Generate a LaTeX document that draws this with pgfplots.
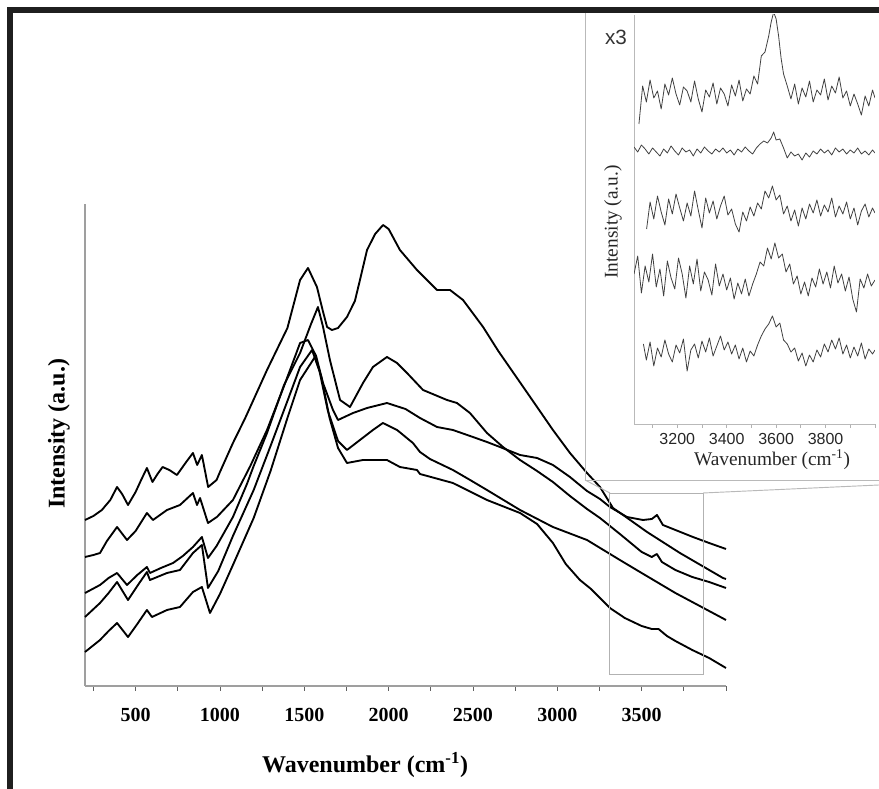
\documentclass[border=0pt]{standalone}
\usepackage{fontspec}
\setmainfont{Liberation Serif}
\newfontfamily\arialfont{Liberation Sans}
\usepackage{pgfplots}
\pgfplotsset{compat=1.18}
\pgfplotstableread{
x y
200 166
250 170
300 176
350 186
390 199
420 192
455 181
500 194
530 205
567 218
600 204
630 212
660 219
700 216
745 211
800 224
840 233
865 221
893 231
930 199
980 206
1000 214
1077 243
1150 268
1279 316
1400 358
1475 406
1522 418
1575 399
1610 375
1635 359
1664 356
1700 358
1753 369
1800 385
1830 406
1872 436
1920 452
1967 461
2000 457
2067 436
2168 416
2287 396
2364 396
2441 386
2560 359
2650 335
2761 308
2880 279
2974 256
3075 233
3176 213
3253 199
3330 178
3390 171
3532 154
3727 133
3982 108
4000 107
}\curveA
\pgfplotstableread{
x y
200 129
250 131
289 133
330 145
390 159
449 146
500 155
567 173
603 166
686 176
763 181
840 193
864 181
882 188
929 163
982 169
1077 186
1180 220
1279 256
1380 300
1475 343
1522 346
1570 330
1611 303
1670 276
1700 266
1789 273
1872 278
1990 283
2100 277
2186 268
2287 259
2381 256
2483 250
2583 244
2660 239
2779 231
2880 228
2974 221
3075 209
3176 195
3253 187
3312 179
3413 169
3508 166
3560 167
3591 171
3626 161
3700 156
3804 149
3900 143
4000 137
}\curveF
\pgfplotstableread{
x y
200 93
289 101
340 108
390 113
449 101
510 111
567 119
585 113
650 118
722 123
780 130
840 139
893 149
929 128
980 140
1077 169
1160 202
1200 220
1279 253
1380 301
1475 333
1540 362
1581 379
1610 360
1652 326
1712 286
1771 279
1848 303
1907 319
1990 329
2050 323
2109 313
2204 296
2346 286
2405 283
2482 273
2583 253
2678 239
2779 226
2880 215
2974 204
3075 190
3176 177
3253 168
3371 152
3450 141
3500 134
3560 129
3590 132
3620 124
3700 116
3800 109
3900 104
4000 98
}\curveB
\pgfplotstableread{
x y
200 69
289 83
340 93
390 104
455 86
510 100
567 114
585 106
686 113
763 116
840 133
893 141
929 98
990 115
1077 150
1200 196
1300 240
1400 285
1475 319
1546 336
1590 315
1640 275
1700 245
1753 236
1830 246
1907 256
1966 263
2050 256
2144 243
2186 234
2245 227
2381 216
2483 206
2583 196
2779 176
2974 159
3176 146
3371 126
3500 113
3600 103
3700 93
3800 84
3900 75
4000 66
}\curveM
\pgfplotstableread{
x y
200 34
289 46
340 55
390 63
455 49
510 62
567 76
597 69
686 76
763 79
840 94
893 99
941 73
1000 92
1077 121
1200 168
1300 215
1400 268
1475 306
1563 329
1600 310
1650 268
1700 238
1753 223
1848 226
1990 226
2067 219
2168 216
2186 212
2381 203
2583 186
2779 173
2880 162
2974 143
3050 122
3134 106
3200 97
3312 78
3400 68
3500 60
3560 57
3600 57
3650 50
3700 45
3800 36
3900 28
4000 18
}\curveL
\pgfplotstableread{
x y
3045 300
3060 338
3075 322
3090 344
3105 326
3120 333
3135 315
3150 340
3165 329
3180 346
3195 330
3210 319
3225 337
3240 333
3255 322
3270 343
3285 325
3300 312
3315 334
3330 327
3345 341
3360 320
3375 336
3390 330
3405 318
3420 339
3435 328
3450 344
3465 323
3480 335
3495 330
3510 348
3525 340
3540 368
3555 372
3570 388
3580 402
3590 412
3600 405
3610 388
3620 366
3630 350
3645 338
3660 325
3675 340
3690 320
3705 336
3720 327
3735 343
3750 322
3765 334
3780 329
3795 345
3810 324
3825 338
3840 331
3855 347
3870 326
3885 333
3900 318
3915 330
3930 320
3945 309
3960 328
3975 318
3990 334
4000 326
}\insetA
\pgfplotstableread{
x y
3025 277
3040 272
3055 279
3070 275
3085 270
3100 276
3115 272
3130 268
3145 275
3160 271
3175 278
3190 273
3205 269
3220 276
3235 272
3250 274
3265 268
3280 275
3295 271
3310 277
3325 273
3340 270
3355 275
3370 272
3385 276
3400 271
3415 274
3430 269
3445 275
3460 272
3475 277
3490 273
3505 270
3520 276
3535 280
3550 283
3565 281
3580 286
3590 292
3600 284
3615 285
3630 276
3645 266
3660 272
3675 268
3690 270
3705 264
3720 271
3735 267
3750 273
3765 270
3780 275
3795 271
3810 274
3825 269
3840 276
3855 272
3870 275
3885 270
3900 274
3915 271
3930 276
3945 270
3960 273
3975 269
3990 274
4000 271
}\insetB
\pgfplotstableread{
x y
3076 195
3090 222
3105 205
3120 228
3135 212
3150 199
3165 225
3180 210
3195 230
3210 216
3225 203
3240 221
3255 208
3270 233
3285 214
3300 196
3315 226
3330 211
3345 223
3360 205
3375 218
3390 228
3405 209
3420 215
3435 200
3450 192
3465 212
3480 203
3495 217
3510 208
3525 221
3540 215
3555 233
3570 226
3585 238
3600 224
3615 229
3630 210
3645 218
3660 203
3675 214
3690 198
3705 216
3720 205
3735 220
3750 211
3765 224
3780 208
3795 219
3810 212
3825 226
3840 207
3855 218
3870 210
3885 222
3900 205
3915 216
3930 199
3945 213
3960 220
3975 207
3990 216
4000 211
}\insetC
\pgfplotstableread{
x y
3025 150
3040 168
3055 131
3070 158
3085 142
3100 170
3115 137
3130 155
3145 128
3160 163
3175 146
3190 135
3205 166
3220 150
3235 126
3250 158
3265 140
3280 165
3295 133
3310 152
3325 144
3340 129
3355 160
3370 138
3385 150
3400 134
3415 146
3430 125
3445 141
3460 130
3475 145
3490 128
3505 140
3520 150
3535 162
3550 158
3565 176
3580 165
3595 181
3610 166
3625 170
3640 152
3655 160
3670 140
3685 148
3700 130
3715 142
3730 128
3745 146
3760 137
3775 155
3790 140
3805 152
3820 136
3835 158
3850 141
3865 150
3880 133
3895 147
3910 125
3925 112
3940 145
3955 136
3970 150
3985 138
4000 144
}\insetD
\pgfplotstableread{
x y
3063 80
3075 64
3090 82
3105 58
3120 76
3135 67
3150 84
3165 70
3180 62
3195 79
3210 71
3225 85
3240 53
3255 74
3270 80
3285 66
3300 83
3315 72
3330 86
3345 68
3360 78
3375 88
3390 74
3405 82
3420 70
3435 79
3450 65
3465 76
3480 62
3495 73
3510 68
3525 79
3540 88
3555 95
3570 100
3585 108
3600 97
3615 101
3630 84
3645 80
3660 72
3675 76
3690 63
3705 71
3720 58
3735 69
3750 62
3765 74
3780 67
3795 80
3810 72
3825 84
3840 75
3855 86
3870 70
3885 79
3900 66
3915 77
3930 68
3945 81
3960 65
3975 75
3990 70
4000 74
}\insetE
\begin{document}
\begin{tikzpicture}
\useasboundingbox (0,0) rectangle (659.25pt,591.75pt);
\begin{axis}[
  at={(63.75pt,77.25pt)}, anchor=south west,
  scale only axis, width=480.75pt, height=361.5pt,
  xmin=200, xmax=4000, ymin=0, ymax=482,
  axis x line*=bottom, axis y line*=left,
  axis line style={-, gray!75, line width=0.8pt},
  ytick=\empty,
  xtick={500,1000,1500,2000,2500,3000,3500},
  minor xtick={250,750,1250,1750,2250,2750,3250,3750,4000},
  tick align=outside,
  major tick length=3.75pt, minor tick length=3.75pt,
  tick style={gray!75!black, line width=0.6pt},
  /pgf/number format/assume math mode=true,
  /pgf/number format/1000 sep={},
  xticklabel style={font=\bfseries\fontsize{15}{15}\selectfont, anchor=center, yshift=-18pt},
  xlabel={\textbf{Wavenumber (cm\textsuperscript{-1})}},
  xlabel style={font=\fontsize{18}{18}\selectfont, at={(axis description cs:0.437,-0.164)}, anchor=center},
  ylabel={\textbf{Intensity (a.u.)}},
  ylabel style={font=\fontsize{18}{18}\selectfont, at={(axis description cs:-0.0406,0.523)}, anchor=center},
  clip=false,
]
\addplot[black, no markers, line width=1.4pt, line join=round] table {\curveA};
\addplot[black, no markers, line width=1.4pt, line join=round] table {\curveF};
\addplot[black, no markers, line width=1.4pt, line join=round] table {\curveB};
\addplot[black, no markers, line width=1.4pt, line join=round] table {\curveM};
\addplot[black, no markers, line width=1.4pt, line join=round] table {\curveL};
\draw[gray!60, line width=0.7pt] (axis cs:3312,12) rectangle (axis cs:3864,193);
\coordinate (bTL) at (axis cs:3312,193);
\coordinate (bTR) at (axis cs:3864,193);
\end{axis}
\begin{scope}[x=0.75pt,y=0.75pt]
\fill[black!88] (7,0) rectangle (13,782);
\fill[black!88] (7,776) rectangle (879,782);
\draw[gray!55, line width=0.7pt] (585,776) -- (585,309) -- (879,309);
\draw[gray!55, line width=0.7pt] (bTL) -- (585,309);
\draw[gray!55, line width=0.7pt] (bTR) -- (879,304);
\node[font=\arialfont\fontsize{15.5}{15.5}\selectfont, text=black!80] at (616,752) {x3};
\end{scope}
\begin{axis}[
  at={(475.5pt,273.75pt)}, anchor=south west,
  scale only axis, width=180.75pt, height=306.75pt,
  xmin=3025, xmax=4000, ymin=0, ymax=409,
  axis x line*=bottom, axis y line*=left,
  axis line style={-, gray!55, line width=0.7pt},
  ytick=\empty,
  xtick={3200,3400,3600,3800},
  minor xtick={3100,3300,3500,3700,3900,4000},
  tick align=outside,
  major tick length=3pt, minor tick length=3pt,
  tick style={gray!60, line width=0.6pt},
  /pgf/number format/assume math mode=true,
  /pgf/number format/1000 sep={},
  xticklabel style={font=\arialfont\fontsize{12}{12}\selectfont, text=black!85, anchor=center, yshift=-8.5pt},
  xlabel={Wavenumber (cm\textsuperscript{-1})},
  xlabel style={font=\fontsize{14.5}{14.5}\selectfont, text=black!85, at={(axis description cs:0.573,-0.086)}, anchor=center},
  ylabel={Intensity (a.u.)},
  ylabel style={font=\fontsize{14.5}{14.5}\selectfont, text=black!85, at={(axis description cs:-0.087,0.494)}, anchor=center},
]
\addplot[black!75, no markers, line width=0.6pt, line join=round] table {\insetA};
\addplot[black!75, no markers, line width=0.6pt, line join=round] table {\insetB};
\addplot[black!75, no markers, line width=0.6pt, line join=round] table {\insetC};
\addplot[black!75, no markers, line width=0.6pt, line join=round] table {\insetD};
\addplot[black!75, no markers, line width=0.6pt, line join=round] table {\insetE};
\end{axis}
\end{tikzpicture}
\end{document}
